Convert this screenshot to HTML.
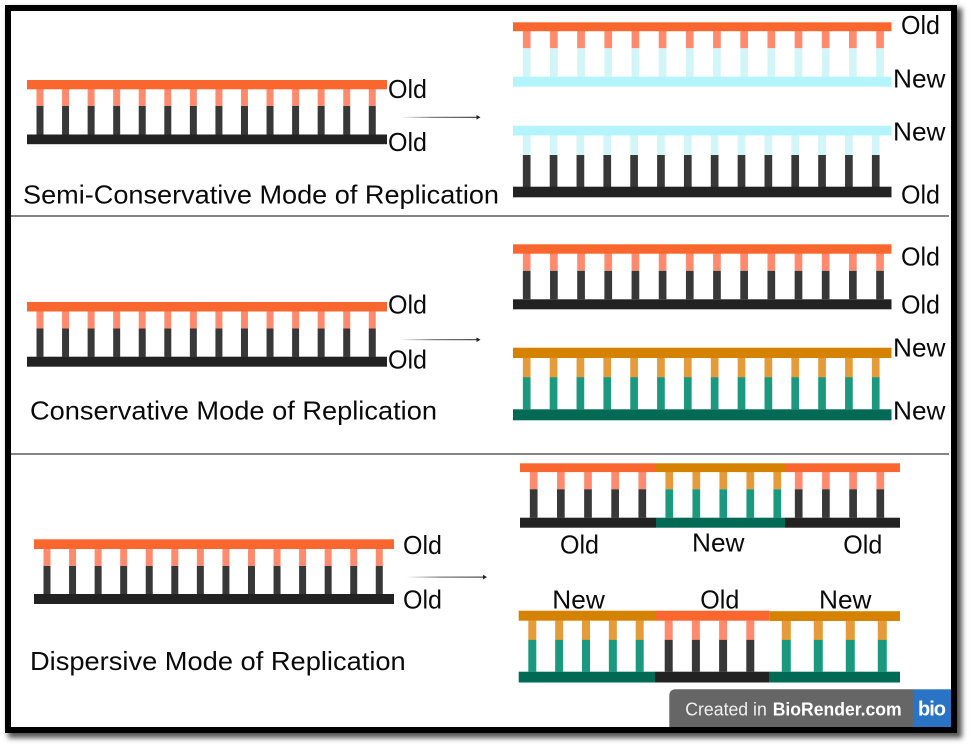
<!DOCTYPE html>
<html>
<head>
<meta charset="utf-8">
<style>
html,body{margin:0;padding:0;background:#fff;width:970px;height:746px;overflow:hidden}
svg{position:absolute;left:0;top:0;display:block;filter:blur(0.3px)}
text{font-family:"Liberation Sans",sans-serif;font-size:26px;fill:#0a0a0a}
</style>
</head>
<body>
<svg width="970" height="746" viewBox="0 0 970 746" xmlns="http://www.w3.org/2000/svg">
<defs>
<filter id="sh" x="-3%" y="-3%" width="106%" height="106%"><feGaussianBlur stdDeviation="2.6"/></filter>
<linearGradient id="ag" x1="0" x2="1" y1="0" y2="0"><stop offset="0" stop-color="#333" stop-opacity="0"/><stop offset="0.45" stop-color="#333" stop-opacity=".8"/><stop offset="1" stop-color="#222"/></linearGradient>
</defs>
<rect width="970" height="746" fill="#fff"/>
<!-- frame shadow -->
<rect x="8" y="8" width="954" height="730" fill="#555" filter="url(#sh)"/>
<rect x="5" y="5" width="952" height="728" fill="#000"/>
<rect x="11" y="11" width="940" height="716" fill="#fff"/>
<!-- dividers -->
<rect x="11" y="215.2" width="938" height="1.6" fill="#666"/>
<rect x="11" y="453.2" width="938" height="1.6" fill="#666"/>

<!-- Ladder A -->
<g>
<line x1="36.5" x2="375.8" y1="97.5" y2="97.5" stroke="#ff8a6e" stroke-width="17" stroke-dasharray="7 18.56"/>
<line x1="36.5" x2="375.8" y1="120.25" y2="120.25" stroke="#383838" stroke-width="28.5" stroke-dasharray="7 18.56"/>
<rect x="27" y="80" width="360" height="9.3" fill="#f9672f"/>
<rect x="27" y="134.5" width="360" height="9.7" fill="#222"/>
</g>
<!-- Ladder B -->
<g>
<line x1="36.5" x2="375.8" y1="320" y2="320" stroke="#ff8a6e" stroke-width="17" stroke-dasharray="7 18.56"/>
<line x1="36.5" x2="375.8" y1="342.7" y2="342.7" stroke="#383838" stroke-width="28.4" stroke-dasharray="7 18.56"/>
<rect x="27" y="302" width="360" height="9.5" fill="#f9672f"/>
<rect x="27" y="356.7" width="360" height="10" fill="#222"/>
</g>
<!-- Ladder C -->
<g>
<line x1="43.5" x2="382.8" y1="557.5" y2="557.5" stroke="#ff8a6e" stroke-width="17" stroke-dasharray="7 18.56"/>
<line x1="43.5" x2="382.8" y1="580" y2="580" stroke="#383838" stroke-width="28" stroke-dasharray="7 18.56"/>
<rect x="34" y="539.3" width="360" height="9.7" fill="#f9672f"/>
<rect x="34" y="594" width="360" height="10" fill="#222"/>
</g>

<!-- R1 -->
<g>
<line x1="522.85" x2="883.9" y1="39.6" y2="39.6" stroke="#ff8a6e" stroke-width="17.4" stroke-dasharray="7.7 19.48"/>
<line x1="522.85" x2="883.9" y1="62.5" y2="62.5" stroke="#d2f5f8" stroke-width="28.4" stroke-dasharray="7.7 19.48"/>
<rect x="513" y="22.3" width="378.5" height="8.9" fill="#f9672f"/>
<rect x="513" y="76.7" width="378.5" height="10" fill="#b4f5fd"/>
</g>
<!-- R2 -->
<g>
<line x1="522.85" x2="879.6" y1="145" y2="145" stroke="#d2f5f8" stroke-width="20" stroke-dasharray="7.7 19.15"/>
<line x1="522.85" x2="879.6" y1="171" y2="171" stroke="#383838" stroke-width="32" stroke-dasharray="7.7 19.15"/>
<rect x="513" y="125.7" width="378.5" height="9.7" fill="#b4f5fd"/>
<rect x="513" y="186.7" width="378.5" height="10.6" fill="#222"/>
</g>
<!-- R3 -->
<g>
<line x1="522.85" x2="883.9" y1="262" y2="262" stroke="#ff8a6e" stroke-width="17" stroke-dasharray="7.7 19.48"/>
<line x1="522.85" x2="883.9" y1="285" y2="285" stroke="#383838" stroke-width="28.6" stroke-dasharray="7.7 19.48"/>
<rect x="513" y="244.3" width="378.5" height="9.4" fill="#f9672f"/>
<rect x="513" y="299.3" width="378.5" height="10" fill="#222"/>
</g>
<!-- R4 -->
<g>
<line x1="522.85" x2="879.6" y1="367.5" y2="367.5" stroke="#e59b3a" stroke-width="20" stroke-dasharray="7.7 19.15"/>
<line x1="522.85" x2="879.6" y1="393.3" y2="393.3" stroke="#1a997e" stroke-width="32" stroke-dasharray="7.7 19.15"/>
<rect x="513" y="347.7" width="378.5" height="10.3" fill="#d48200"/>
<rect x="513" y="409.3" width="378.5" height="11" fill="#006a55"/>
</g>

<!-- D1 rungs -->
<line x1="529.85" x2="646.2" y1="480.6" y2="480.6" stroke="#ff8a6e" stroke-width="17.4" stroke-dasharray="7.7 19.45"/>
<line x1="529.85" x2="646.2" y1="503.5" y2="503.5" stroke="#383838" stroke-width="28.4" stroke-dasharray="7.7 19.45"/>
<line x1="665.45" x2="781.2" y1="480.6" y2="480.6" stroke="#e59b3a" stroke-width="17.4" stroke-dasharray="7.7 19.3"/>
<line x1="665.45" x2="781.2" y1="503.5" y2="503.5" stroke="#1a997e" stroke-width="28.4" stroke-dasharray="7.7 19.3"/>
<line x1="794.85" x2="884.2" y1="480.6" y2="480.6" stroke="#ff8a6e" stroke-width="17.4" stroke-dasharray="7.7 19.5"/>
<line x1="794.85" x2="884.2" y1="503.5" y2="503.5" stroke="#383838" stroke-width="28.4" stroke-dasharray="7.7 19.5"/>
<!-- D1 bars -->
<rect x="520" y="463.3" width="136" height="8.8" fill="#f9672f"/>
<rect x="656" y="463.3" width="129" height="8.8" fill="#d48200"/>
<rect x="785" y="463.3" width="115" height="8.8" fill="#f9672f"/>
<rect x="520" y="517.7" width="136" height="10" fill="#222"/>
<rect x="656" y="517.7" width="129" height="10" fill="#006a55"/>
<rect x="785" y="517.7" width="115" height="10" fill="#222"/>

<!-- D2 rungs -->
<line x1="528.3" x2="643.7" y1="630.3" y2="630.3" stroke="#e59b3a" stroke-width="19.4" stroke-dasharray="8 18.85"/>
<line x1="528.3" x2="643.7" y1="655.8" y2="655.8" stroke="#1a997e" stroke-width="31.8" stroke-dasharray="8 18.85"/>
<line x1="664.7" x2="754.3" y1="630.3" y2="630.3" stroke="#ff8a6e" stroke-width="19.4" stroke-dasharray="8 19.2"/>
<line x1="664.7" x2="754.3" y1="655.8" y2="655.8" stroke="#383838" stroke-width="31.8" stroke-dasharray="8 19.2"/>
<line x1="781.8" x2="886.8" y1="630.3" y2="630.3" stroke="#e59b3a" stroke-width="19.4" stroke-dasharray="9 23"/>
<line x1="781.8" x2="886.8" y1="655.8" y2="655.8" stroke="#1a997e" stroke-width="31.8" stroke-dasharray="9 23"/>
<!-- D2 bars -->
<rect x="518.7" y="610.7" width="136.3" height="10" fill="#d48200"/>
<rect x="655" y="610.7" width="114.7" height="10" fill="#f9672f"/>
<rect x="769.7" y="611.2" width="130.3" height="9.8" fill="#d48200"/>
<rect x="518.7" y="671.7" width="136.3" height="10.8" fill="#006a55"/>
<rect x="655" y="671.7" width="114.7" height="10.8" fill="#222"/>
<rect x="769.7" y="671.7" width="130.3" height="10.8" fill="#006a55"/>

<!-- arrows -->
<rect x="400" y="116.8" width="77" height="1" fill="url(#ag)"/>
<path d="M476.5 115 L480.5 117.3 L476.5 119.6 Z" fill="#222"/>
<rect x="400" y="339.2" width="77" height="1" fill="url(#ag)"/>
<path d="M476.5 337.4 L480.5 339.7 L476.5 342 Z" fill="#222"/>
<rect x="406" y="576.6" width="77" height="1" fill="url(#ag)"/>
<path d="M483 574.8 L487 577.1 L483 579.4 Z" fill="#222"/>

<!-- labels -->
<text x="388" y="98" textLength="39" lengthAdjust="spacingAndGlyphs">Old</text>
<text x="388" y="151" textLength="39" lengthAdjust="spacingAndGlyphs">Old</text>
<text x="23" y="203.5" textLength="476" lengthAdjust="spacingAndGlyphs">Semi-Conservative Mode of Replication</text>
<text x="901" y="34" textLength="39" lengthAdjust="spacingAndGlyphs">Old</text>
<text x="893" y="87.7" textLength="52.5" lengthAdjust="spacingAndGlyphs">New</text>
<text x="893" y="140.7" textLength="52.5" lengthAdjust="spacingAndGlyphs">New</text>
<text x="901" y="203.3" textLength="39" lengthAdjust="spacingAndGlyphs">Old</text>

<text x="388" y="313.3" textLength="39" lengthAdjust="spacingAndGlyphs">Old</text>
<text x="388" y="368.3" textLength="39" lengthAdjust="spacingAndGlyphs">Old</text>
<text x="30" y="419.3" textLength="407" lengthAdjust="spacingAndGlyphs">Conservative Mode of Replication</text>
<text x="901" y="265.7" textLength="39" lengthAdjust="spacingAndGlyphs">Old</text>
<text x="901" y="313.3" textLength="39" lengthAdjust="spacingAndGlyphs">Old</text>
<text x="893" y="356.7" textLength="52.5" lengthAdjust="spacingAndGlyphs">New</text>
<text x="893" y="419.3" textLength="52.5" lengthAdjust="spacingAndGlyphs">New</text>

<text x="403" y="554" textLength="39" lengthAdjust="spacingAndGlyphs">Old</text>
<text x="403" y="608.7" textLength="39" lengthAdjust="spacingAndGlyphs">Old</text>
<text x="30" y="670" textLength="375.7" lengthAdjust="spacingAndGlyphs">Dispersive Mode of Replication</text>
<text x="560" y="553.7" textLength="39" lengthAdjust="spacingAndGlyphs">Old</text>
<text x="692" y="551.7" textLength="52.5" lengthAdjust="spacingAndGlyphs">New</text>
<text x="843.3" y="553.7" textLength="39" lengthAdjust="spacingAndGlyphs">Old</text>
<text x="552.3" y="608.3" textLength="52.5" lengthAdjust="spacingAndGlyphs">New</text>
<text x="700.3" y="608.3" textLength="39" lengthAdjust="spacingAndGlyphs">Old</text>
<text x="819" y="608.3" textLength="52.5" lengthAdjust="spacingAndGlyphs">New</text>

<!-- badge -->
<path d="M669.3 727 V696 Q669.3 689.3 676 689.3 H913 V727 Z" fill="#666"/>
<rect x="913" y="689.3" width="38" height="37.7" fill="#2b73c4"/>
<text x="685.3" y="715.3" textLength="81.5" lengthAdjust="spacingAndGlyphs" style="font-size:18px;fill:#f0f0f0">Created in</text>
<text x="772.7" y="715.3" textLength="129" lengthAdjust="spacingAndGlyphs" style="font-size:18px;font-weight:bold;fill:#fff">BioRender.com</text>
<text x="918" y="715.3" textLength="28" lengthAdjust="spacing" style="font-size:20px;font-weight:bold;fill:#fff">bio</text>
</svg>
</body>
</html>
